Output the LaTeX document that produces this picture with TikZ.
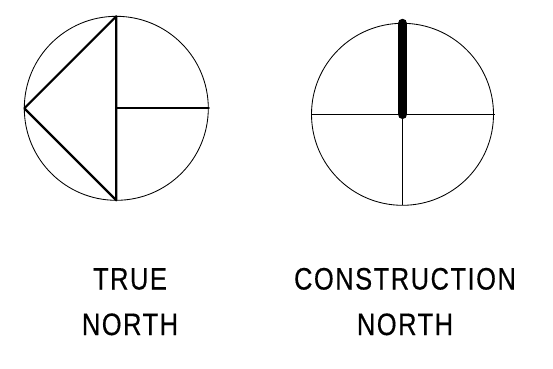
\documentclass[tikz,border=0pt]{standalone}
\usepackage{fontspec}
\newfontfamily\labfont[FakeStretch=0.82,LetterSpace=5,FakeBold=0.4]{Liberation Sans}
\begin{document}
\begin{tikzpicture}[x=1pt,y=-1pt,
  thinl/.style={line width=0.85pt,black},
  thickl/.style={line width=2.2pt,black,line cap=round},
  heavyl/.style={line width=9.5pt,black,line cap=round},
  lab/.style={font=\labfont\fontsize{31}{45.5}\selectfont,align=center,inner sep=0pt,anchor=base,text=black}]
\useasboundingbox (0,0) rectangle (553,368);
\coordinate (lc) at (116.3,108.3);
\coordinate (lt) at (116.3,16.3);
\coordinate (lb) at (116.3,200.3);
\coordinate (ll) at (24.3,108.3);
\coordinate (lr) at (208.8,108.3);
\draw[thinl] (lc) circle[radius=92];
\draw[thickl,line join=round] (lb) -- (lt) -- (ll) -- (lb);
\draw[thickl] (lc) -- (lr);
\coordinate (rc) at (402.5,114.3);
\coordinate (rt) at (402.5,23.5);
\coordinate (rb) at (402.5,205.3);
\coordinate (rl) at (311.5,114.3);
\coordinate (rr) at (494.5,114.3);
\draw[thinl] (rc) circle[radius=91];
\draw[thinl] (rl) -- (rr);
\draw[thinl] (rc) -- (rb);
\draw[heavyl] (rc) -- (rt);
\node[lab] (tn) at (130,335) {TRUE\\NORTH};
\node[lab] (cn) at (405,335) {CONSTRUCTION\\NORTH};
\end{tikzpicture}
\end{document}
